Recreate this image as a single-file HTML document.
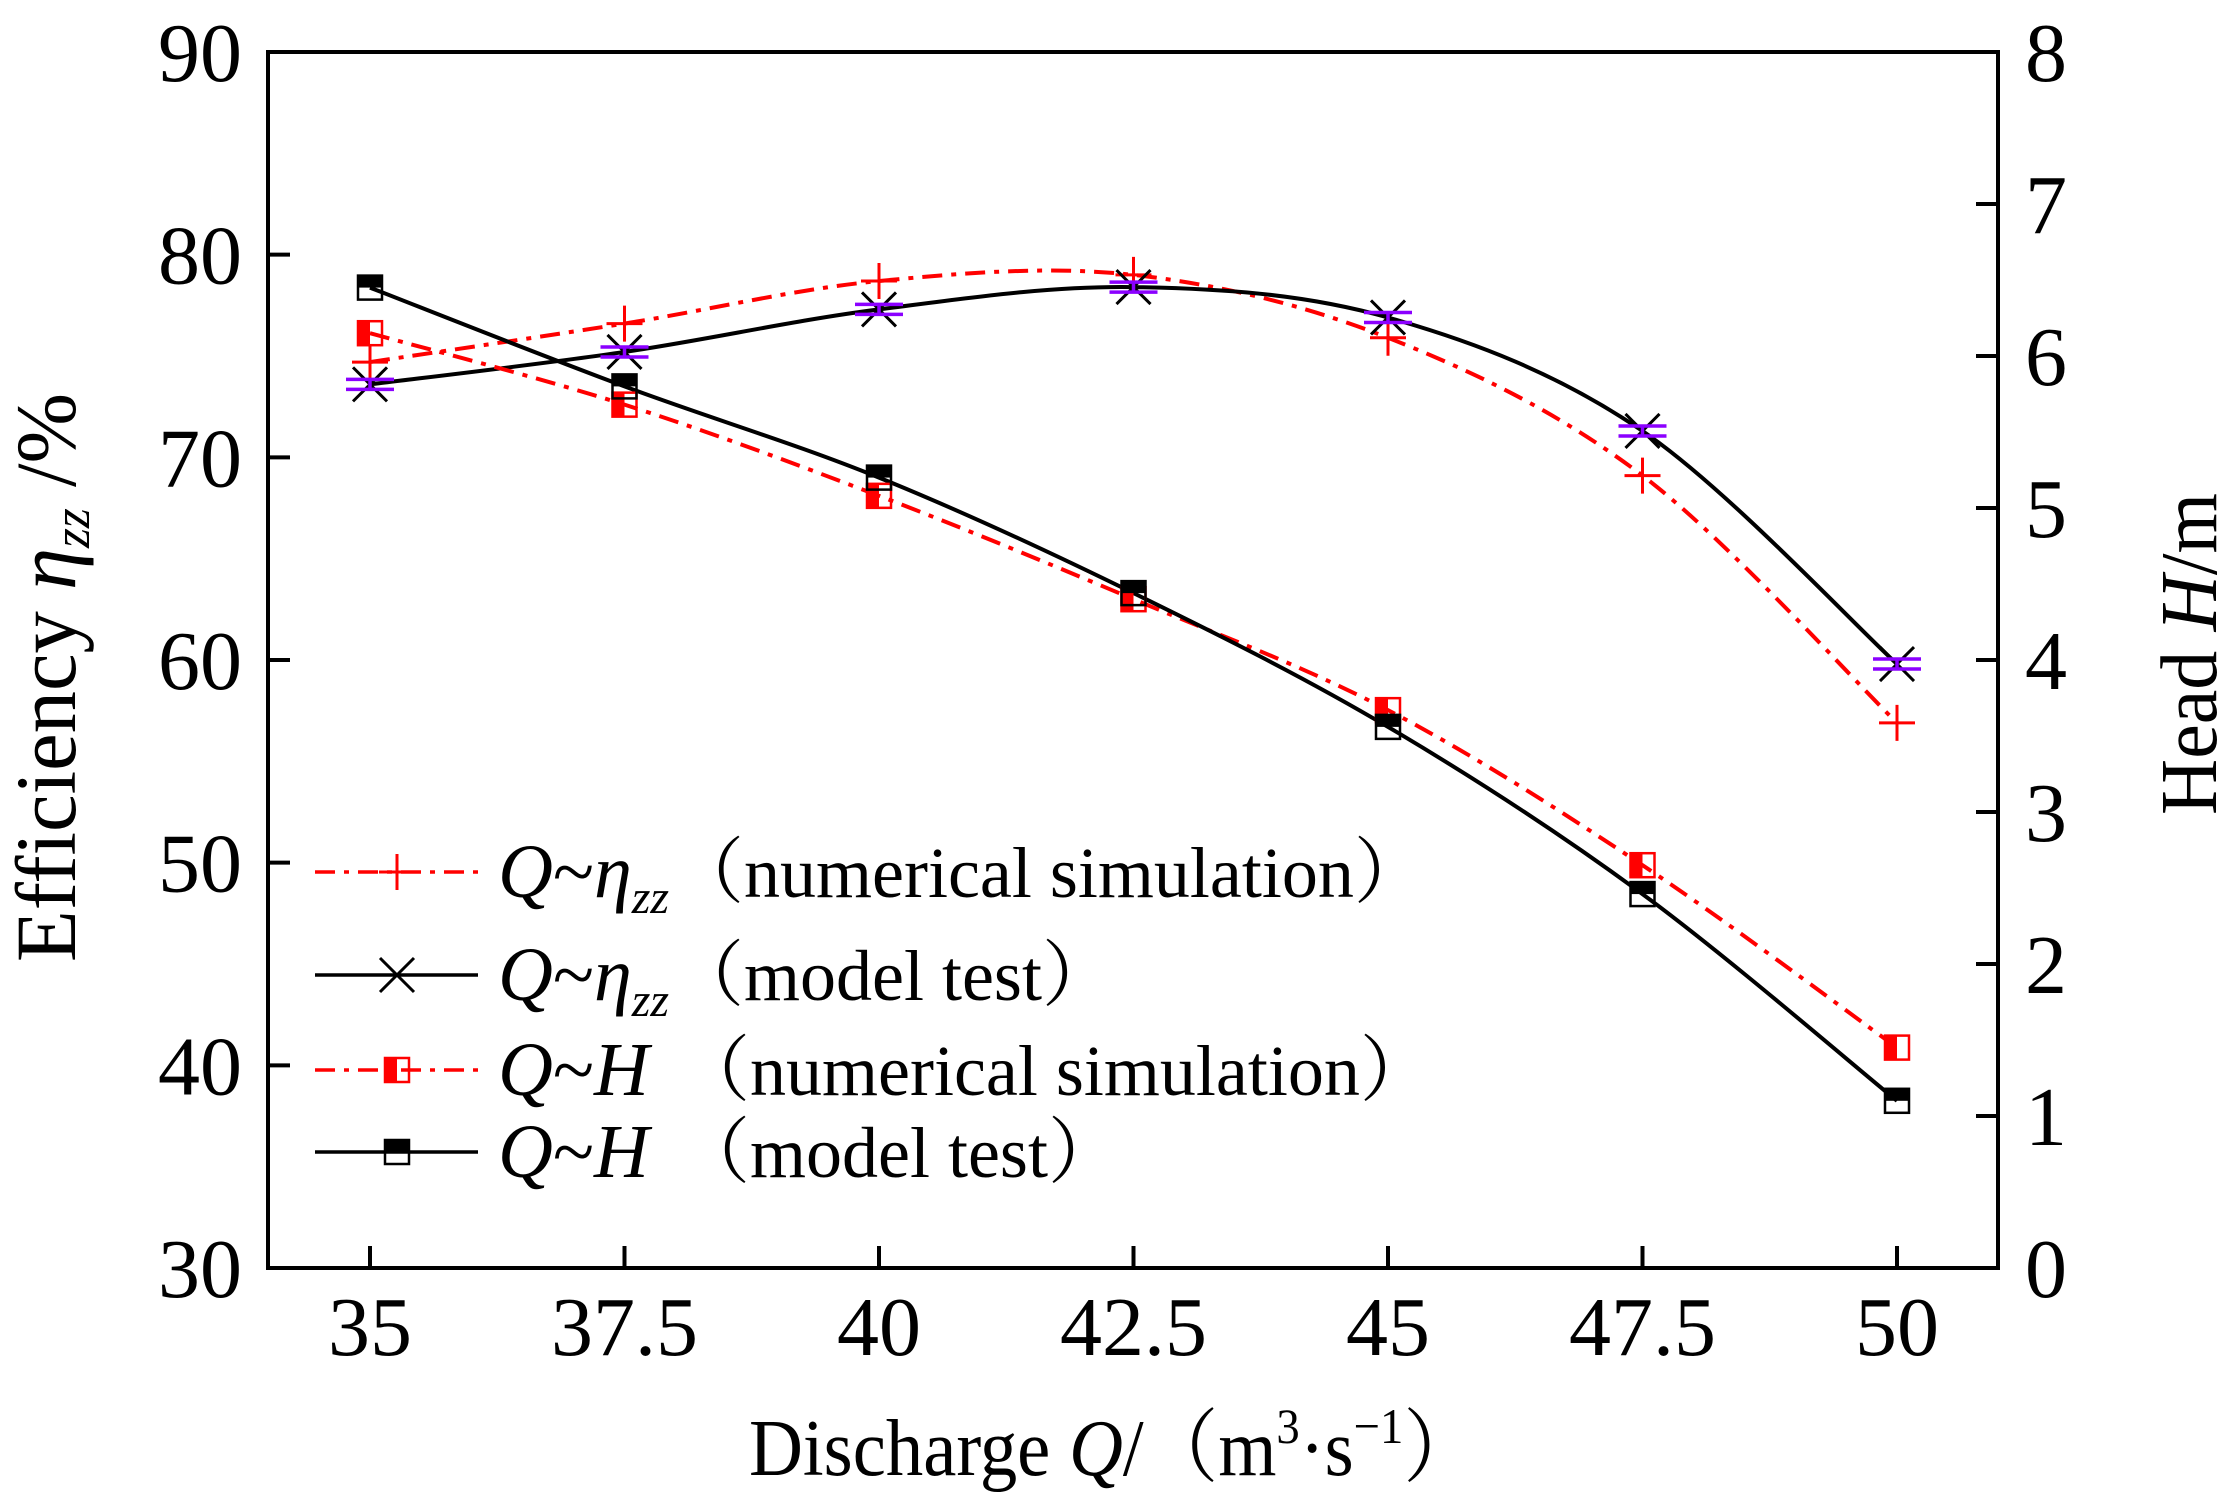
<!DOCTYPE html>
<html><head><meta charset="utf-8">
<style>
html,body{margin:0;padding:0;background:#fff;}
svg{display:block;}
text{font-family:"Liberation Serif","Noto Serif CJK SC",serif;fill:#000;}
</style></head>
<body>
<svg id="chart" width="2234" height="1505" viewBox="0 0 2234 1505" xmlns="http://www.w3.org/2000/svg">
<rect x="0" y="0" width="2234" height="1505" fill="#fff"/>
<g id="plot"></g>
<g id="axes"></g>
<text x="749" y="1475" font-size="80" textLength="729" lengthAdjust="spacingAndGlyphs">Discharge <tspan font-style="italic">Q</tspan>/（m<tspan font-size="50" dy="-32">3</tspan><tspan dy="32">·s</tspan><tspan font-size="50" dy="-32">−1</tspan><tspan dy="32">）</tspan></text>
<text transform="translate(75,962) rotate(-90)" font-size="86" textLength="569" lengthAdjust="spacingAndGlyphs">Efficiency <tspan font-style="italic">η</tspan><tspan font-style="italic" font-size="52" dy="14">zz</tspan><tspan dy="-14"> /%</tspan></text>
<text transform="translate(2216,815) rotate(-90)" font-size="80" textLength="322" lengthAdjust="spacingAndGlyphs">Head <tspan font-style="italic">H</tspan>/m</text>
<g id="legend"></g>
</svg>
<script>
const categories = [35, 37.5, 40, 42.5, 45, 47.5, 50];
const xTicks = [35, 37.5, 40, 42.5, 45, 47.5, 50];
const xTickLabels = ["35", "37.5", "40", "42.5", "45", "47.5", "50"];
const leftTicks = [30, 40, 50, 60, 70, 80, 90];
const rightTicks = [0, 1, 2, 3, 4, 5, 6, 7, 8];
const effSim = [74.7, 76.6, 78.7, 79.0, 75.9, 69.1, 56.9];
const effTest = [73.6, 75.2, 77.3, 78.4, 76.9, 71.3, 59.8];
const headSim = [6.15, 5.68, 5.08, 4.40, 3.67, 2.65, 1.45];
const headTest = [6.45, 5.80, 5.20, 4.44, 3.56, 2.46, 1.10];

const NS = "http://www.w3.org/2000/svg";
const L = 268, R = 1998, T = 52, B = 1268;
const X0 = 370, X1 = 1897;
function xs(v){ return X0 + (v - 35) / 15 * (X1 - X0); }
function yl(v){ return B - (v - 30) / 60 * (B - T); }
function yr(v){ return B - v / 8 * (B - T); }
function mk(tag, attrs, parent){
  const e = document.createElementNS(NS, tag);
  for (const k in attrs) e.setAttribute(k, attrs[k]);
  parent.appendChild(e); return e;
}
const plot = document.getElementById('plot');
const axes = document.getElementById('axes');
const legend = document.getElementById('legend');

function smoothPath(pts){
  let d = "M" + pts[0][0] + "," + pts[0][1];
  for (let i = 0; i < pts.length - 1; i++){
    const p0 = pts[i-1] || pts[i], p1 = pts[i], p2 = pts[i+1], p3 = pts[i+2] || pts[i+1];
    const c1x = p1[0] + (p2[0]-p0[0])/6, c1y = p1[1] + (p2[1]-p0[1])/6;
    const c2x = p2[0] - (p3[0]-p1[0])/6, c2y = p2[1] - (p3[1]-p1[1])/6;
    d += " C" + c1x + "," + c1y + " " + c2x + "," + c2y + " " + p2[0] + "," + p2[1];
  }
  return d;
}
const DASH = "20 9 5 9";
function series(vals, yf, color, dashed, name){
  const pts = categories.map((c,i)=>[xs(c), yf(vals[i])]);
  const p = mk('path', {d: smoothPath(pts), fill:'none', stroke: color, 'stroke-width': 4, 'stroke-dasharray': dashed ? DASH : 'none'}, plot);
  
  
  return pts;
}
function plus(g, x, y){
  mk('path', {d:`M${x-18},${y}H${x+18}M${x},${y-18}V${y+18}`, stroke:'#f00', 'stroke-width':3, fill:'none'}, g);
}
function cross(g, x, y){
  mk('path', {d:`M${x-17},${y-17}L${x+17},${y+17}M${x+17},${y-17}L${x-17},${y+17}`, stroke:'#000', 'stroke-width':3, fill:'none'}, g);
}
function errbar(g, x, y){
  mk('path', {d:`M${x-24},${y-5}H${x+24}M${x-24},${y+5}H${x+24}M${x},${y-5}V${y+5}`, stroke:'#8b00ff', 'stroke-width':3.5, fill:'none'}, g);
}
function sqSim(g, x, y){
  mk('rect', {x:x-12, y:y-12, width:12, height:24, fill:'#f00'}, g);
  mk('rect', {x:x-12, y:y-12, width:24, height:24, fill:'none', stroke:'#f00', 'stroke-width':2.5}, g);
}
function sqTest(g, x, y){
  mk('rect', {x:x-12, y:y-12, width:24, height:12, fill:'#000'}, g);
  mk('rect', {x:x-12, y:y-12, width:24, height:24, fill:'none', stroke:'#000', 'stroke-width':2.5}, g);
}

const p1 = series(effSim, yl, '#f00', true, 'efficiency-simulation');
const p2 = series(effTest, yl, '#000', false, 'efficiency-test');
const p3 = series(headSim, yr, '#f00', true, 'head-simulation');
const p4 = series(headTest, yr, '#000', false, 'head-test');

p3.forEach((p,i)=>{ const g = mk('g', {}, plot);
  
  
  sqSim(g, p[0], p[1]); });
p4.forEach((p,i)=>{ const g = mk('g', {}, plot);
  
  
  sqTest(g, p[0], p[1]); });
p1.forEach((p,i)=>{ const g = mk('g', {}, plot);
  
  
  plus(g, p[0], p[1]); });
p2.forEach((p,i)=>{ const g = mk('g', {}, plot);
  
  
  cross(g, p[0], p[1]); errbar(g, p[0], p[1]); });

const frame = mk('rect', {x:L, y:T, width:R-L, height:B-T, fill:'none', stroke:'#000', 'stroke-width':4}, axes);


xTicks.forEach((v,i)=>{
  const x = xs(v);
  const t = mk('line', {x1:x, x2:x, y1:B, y2:B-22, stroke:'#000', 'stroke-width':4}, axes);
  
  
  const lb = mk('text', {x:x, y:1355, 'font-size':84, 'text-anchor':'middle'}, axes);
  
  
  lb.textContent = xTickLabels[i];
});
leftTicks.forEach(v=>{
  const y = yl(v);
  const t = mk('line', {x1:L, x2:L+22, y1:y, y2:y, stroke:'#000', 'stroke-width':4}, axes);
  
  
  const lb = mk('text', {x:242, y:y+29, 'font-size':84, 'text-anchor':'end'}, axes);
  
  
  lb.textContent = String(v);
});
rightTicks.forEach(v=>{
  const y = yr(v);
  const t = mk('line', {x1:R, x2:R-22, y1:y, y2:y, stroke:'#000', 'stroke-width':4}, axes);
  
  
  const lb = mk('text', {x:2025, y:y+29, 'font-size':84, 'text-anchor':'start'}, axes);
  
  
  lb.textContent = String(v);
});

const rows = [
  {y:872, color:'#f00', dash:true, m:plus, sym:'eta', txt:'（numerical simulation）', name:'legend-efficiency-simulation'},
  {y:975, color:'#000', dash:false, m:cross, sym:'eta', txt:'（model test）', name:'legend-efficiency-test'},
  {y:1070, color:'#f00', dash:true, m:sqSim, sym:'H', txt:'（numerical simulation）', name:'legend-head-simulation'},
  {y:1152, color:'#000', dash:false, m:sqTest, sym:'H', txt:'（model test）', name:'legend-head-test'}
];
rows.forEach(r=>{
  const g = mk('g', {}, legend);
  
  
  mk('line', {x1:315, x2:478, y1:r.y, y2:r.y, stroke:r.color, 'stroke-width':3.5, 'stroke-dasharray': r.dash ? DASH : 'none'}, g);
  r.m(g, 397, r.y);
  const t = mk('text', {x:498, y:r.y+25, 'font-size':76}, g);
  if (r.sym === 'eta') {
    t.innerHTML = '<tspan font-style="italic">Q</tspan>~<tspan font-style="italic">η</tspan><tspan font-style="italic" font-size="48" dy="16">zz</tspan>';
  } else {
    t.innerHTML = '<tspan font-style="italic">Q</tspan>~<tspan font-style="italic">H</tspan>';
  }
  const t2 = mk('text', {x: r.sym==='eta' ? 672 : 678, y:r.y+25, 'font-size':72}, g);
  t2.textContent = r.txt;
});
</script>
</body></html>
